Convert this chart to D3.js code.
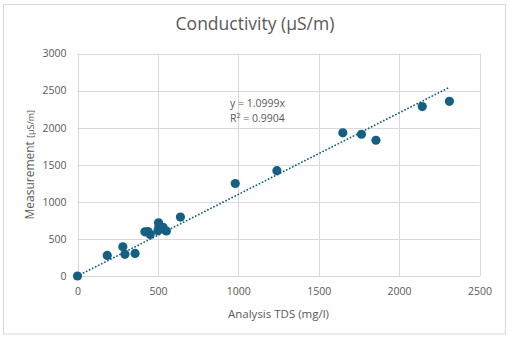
<!DOCTYPE html>
<html>
<head>
<meta charset="utf-8">
<script src="https://cdn.jsdelivr.net/npm/d3@7/dist/d3.min.js"></script>
<style>
  html, body { margin: 0; padding: 0; background: #fff; }
  svg { display: block; }
  text { font-family: "Open Sans", "Noto Sans", sans-serif; fill: #595959; }
</style>
</head>
<body>
<div id="chart"></div>
<script>
// TDS from lab analysis (mg/l) against measured conductivity (µS/m)
const tdsValues = [0, 185, 282, 295, 358, 419, 438, 452, 504, 506, 500, 533, 553, 640, 981, 1240, 1650, 1766, 1856, 2144, 2313];
const conductivityValues = [0, 278, 394, 292, 305, 596, 600, 560, 717, 663, 610, 655, 607, 795, 1247, 1420, 1930, 1911, 1830, 2285, 2355];
const xTicks = [0, 500, 1000, 1500, 2000, 2500];
const yTicks = [0, 500, 1000, 1500, 2000, 2500, 3000];
const slope = 1.0999;
const rSquared = 0.9904;

const W = 510, H = 339;
const margin = { left: 77.5, right: 30.5, top: 53.5, bottom: 63 };
const markerColor = "#156082";
const gridColor = "#d9d9d9";

const svg = d3.select("#chart").append("svg").attr("width", W).attr("height", H);

// chart frame
svg.append("rect")
  .attr("x", 3.5).attr("y", 4.5).attr("width", 502).attr("height", 329.5)
  .attr("fill", "#fff").attr("stroke", gridColor).attr("stroke-width", 1);

const x = d3.scaleLinear().domain([0, 2500]).range([margin.left, W - margin.right]);
const y = d3.scaleLinear().domain([0, 3000]).range([H - margin.bottom, margin.top]);

// gridlines
svg.append("g").selectAll("line").data(xTicks).join("line")
  .attr("x1", d => Math.round(x(d)) + 0.5).attr("x2", d => Math.round(x(d)) + 0.5)
  .attr("y1", y(0)).attr("y2", y(3000))
  .attr("stroke", gridColor).attr("stroke-width", 1);
svg.append("g").selectAll("line").data(yTicks).join("line")
  .attr("y1", d => Math.round(y(d)) + 0.5).attr("y2", d => Math.round(y(d)) + 0.5)
  .attr("x1", x(0)).attr("x2", x(2500))
  .attr("stroke", gridColor).attr("stroke-width", 1);

// axes (labels only, lines hidden)
const xAxis = svg.append("g")
  .attr("transform", `translate(0,${y(0)})`)
  .call(d3.axisBottom(x).tickValues(xTicks).tickSize(0).tickPadding(12).tickFormat(d3.format("d")));
const yAxis = svg.append("g")
  .attr("transform", `translate(${x(0)},0)`)
  .call(d3.axisLeft(y).tickValues(yTicks).tickSize(0).tickPadding(11).tickFormat(d3.format("d")));
[xAxis, yAxis].forEach(a => {
  a.select(".domain").remove();
  a.selectAll("text").style("font-size", "10.5px").attr("fill", "#595959")
    .style("font-family", "'Open Sans', 'Noto Sans', sans-serif");
});

// linear trendline through the origin, up to the largest TDS value
const xMax = d3.max(tdsValues);
svg.append("line")
  .attr("x1", x(0)).attr("y1", y(0))
  .attr("x2", x(xMax)).attr("y2", y(slope * xMax))
  .attr("stroke", markerColor).attr("stroke-width", 1.8)
  .attr("stroke-linecap", "round")
  .attr("stroke-dasharray", "0.1,3.3");

// data points
svg.append("g").selectAll("circle").data(tdsValues.map((v, i) => [v, conductivityValues[i]])).join("circle")
  .attr("cx", d => x(d[0])).attr("cy", d => y(d[1])).attr("r", 4.6)
  .attr("fill", markerColor);

// trendline equation
const eq = svg.append("text").attr("x", 230).attr("y", 107).style("font-size", "10.5px");
eq.text(`y = ${slope.toFixed(4)}x`);
const r2 = svg.append("text").attr("x", 230).attr("y", 122).style("font-size", "10.5px");
r2.append("tspan").text("R");
r2.append("tspan").attr("dy", -4).style("font-size", "7px").text("2");
r2.append("tspan").attr("dy", 4).text(` = ${rSquared.toFixed(4)}`);

// title
svg.append("text").attr("x", 255).attr("y", 30).attr("text-anchor", "middle")
  .style("font-size", "17.5px").text("Conductivity (µS/m)");

// axis titles
svg.append("text").attr("x", 278.5).attr("y", 318).attr("text-anchor", "middle")
  .style("font-size", "11.5px").text("Analysis TDS (mg/l)");
const yt = svg.append("text")
  .attr("transform", `translate(34,${(y(0) + y(3000)) / 2}) rotate(-90)`)
  .attr("text-anchor", "middle").style("font-size", "12px");
yt.append("tspan").text("Measurement  ");
yt.append("tspan").style("font-size", "9px").text("[µS/m]");
</script>
</body>
</html>
